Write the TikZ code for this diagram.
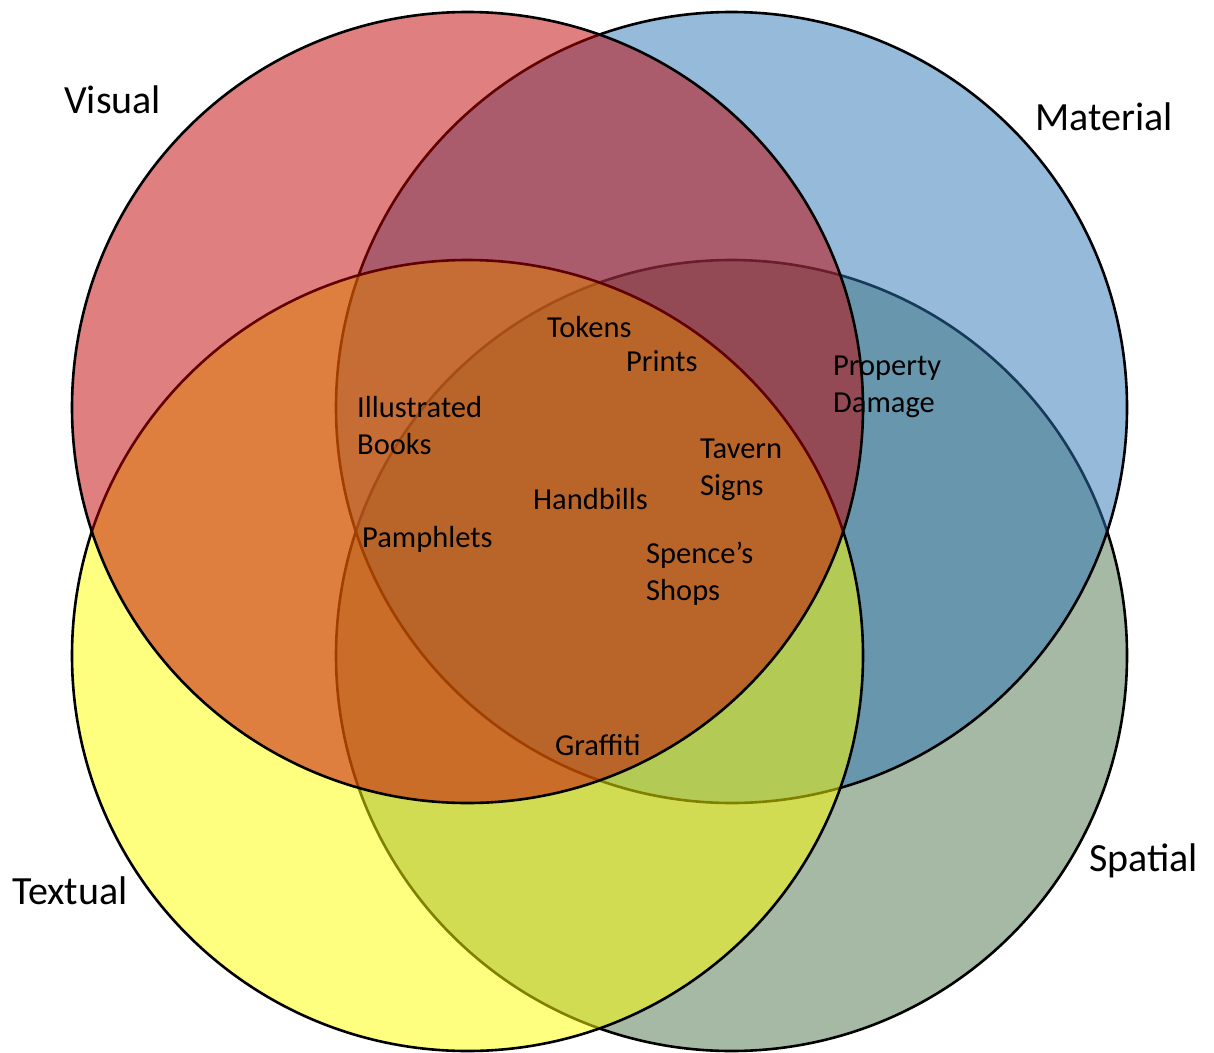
\documentclass[tikz,border=0pt]{standalone}
\usepackage{fontspec}
\setmainfont{Carlito}
\definecolor{visualred}{RGB}{192,0,0}
\definecolor{materialblue}{RGB}{46,117,182}
\definecolor{textualyellow}{RGB}{255,255,0}
\definecolor{spatialgreen}{RGB}{75,115,75}
\begin{document}
\begin{tikzpicture}[x=1pt,y=-1pt,
  setcircle/.style={fill=#1, fill opacity=0.5, draw=black, draw opacity=1, line width=2.6pt},
  biglabel/.style={anchor=base west, inner sep=0pt, font=\fontsize{40}{48}\selectfont},
  itemlabel/.style={anchor=base west, inner sep=0pt, align=left, font=\fontsize{30.5}{37}\selectfont}]
\useasboundingbox (0,0) rectangle (1214,1052);
% centres of the four sets
\coordinate (cS) at (731.5,655.5);
\coordinate (cM) at (731.5,407.5);
\coordinate (cT) at (467.5,655.5);
\coordinate (cV) at (467.5,407.5);
% circles, lowest first
\filldraw[setcircle=spatialgreen]  (cS) circle[radius=395.5];
\filldraw[setcircle=materialblue]  (cM) circle[radius=395.5];
\filldraw[setcircle=textualyellow] (cT) circle[radius=395.5];
\filldraw[setcircle=visualred]     (cV) circle[radius=395.5];
% set names
\node[biglabel] (visual)   at (64,113)   {Visual};
\node[biglabel] (material) at (1035,130) {Material};
\node[biglabel] (textual)  at (12,904)   {Textual};
\node[biglabel] (spatial)  at (1089,871) {Spatial};
% members (two-line labels sit on the baseline of their last line)
\node[itemlabel] (tokens)    at (547,337) {Tokens};
\node[itemlabel] (prints)    at (626,371) {Prints};
\node[itemlabel] (illbooks)  at (357,454) {Illustrated\\Books};
\node[itemlabel] (property)  at (833,412) {Property\\Damage};
\node[itemlabel] (tavern)    at (700,495) {Tavern\\Signs};
\node[itemlabel] (handbills) at (533,509) {Handbills};
\node[itemlabel] (pamphlets) at (362,547) {Pamphlets};
\node[itemlabel] (spences)   at (646,600) {Spence’s\\Shops};
\node[itemlabel] (graffiti)  at (555,755) {Graffiti};
\end{tikzpicture}
\end{document}
